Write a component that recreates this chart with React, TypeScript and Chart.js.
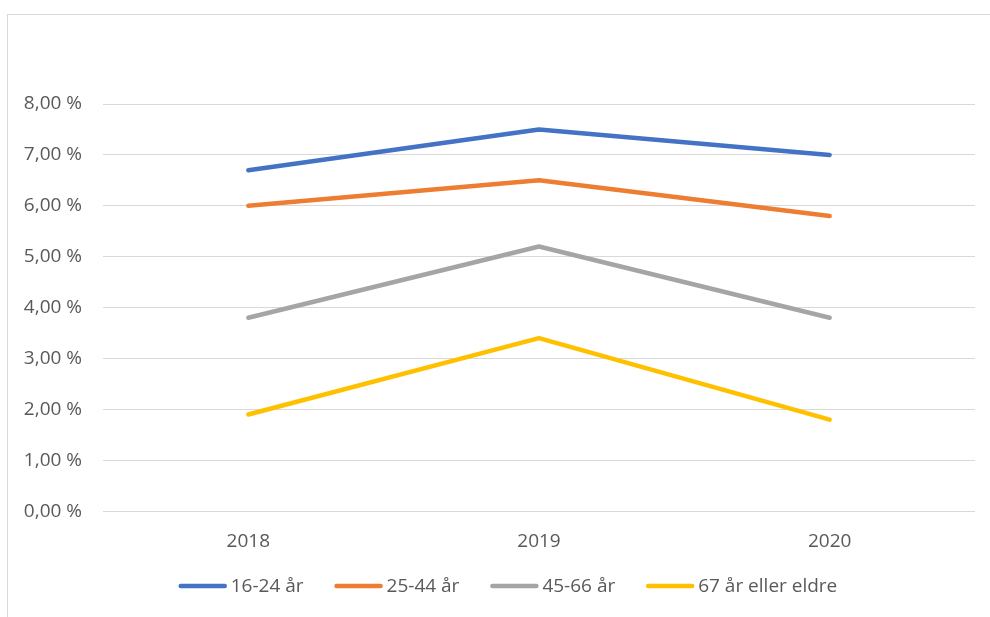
import React, { useEffect, useRef } from "react";
import { Chart, registerables } from "chart.js";

Chart.register(...registerables);

const years = ["2018", "2019", "2020"];
const age16to24 = [6.7, 7.5, 7.0];
const age25to44 = [6.0, 6.5, 5.8];
const age45to66 = [3.8, 5.2, 3.8];
const age67plus = [1.9, 3.4, 1.8];
const seriesLabels = ["16-24 år", "25-44 år", "45-66 år", "67 år eller eldre"];
const seriesColors = ["#4472C4", "#ED7D31", "#A5A5A5", "#FFC000"];

const FONT = "'Open Sans', 'Noto Sans', sans-serif";
const TEXT = "#595959";
const FS = 19;

const bottomLegend = {
  id: "bottomLegend",
  afterDraw(chart: any) {
    const ctx = chart.ctx;
    const ds = chart.data.datasets;
    const lineLen = 48;
    const gap = 4;
    const spacing = 31;
    ctx.save();
    ctx.font = `${FS}px ${FONT}`;
    const widths = ds.map((d: any) => lineLen + gap + ctx.measureText(d.label).width);
    const total = widths.reduce((a: number, b: number) => a + b, 0) + spacing * (ds.length - 1);
    const cx = chart.width / 2 + 13;
    const y = chart.height - 31;
    let x = cx - total / 2;
    ctx.textBaseline = "middle";
    ctx.textAlign = "left";
    ds.forEach((d: any, i: number) => {
      ctx.beginPath();
      ctx.strokeStyle = d.borderColor;
      ctx.lineWidth = d.borderWidth;
      ctx.lineCap = "round";
      ctx.moveTo(x + 2, y);
      ctx.lineTo(x + lineLen - 2, y);
      ctx.stroke();
      ctx.fillStyle = TEXT;
      ctx.fillText(d.label, x + lineLen + gap, y + 1);
      x += widths[i] + spacing;
    });
    ctx.restore();
  },
};

export default function App() {
  const ref = useRef<HTMLCanvasElement | null>(null);

  useEffect(() => {
    document.body.style.overflow = "hidden";
    const values = [age16to24, age25to44, age45to66, age67plus];
    const chart = new Chart(ref.current as HTMLCanvasElement, {
      type: "line",
      data: {
        labels: years,
        datasets: values.map((v, i) => ({
          label: seriesLabels[i],
          data: v,
          borderColor: seriesColors[i],
          backgroundColor: seriesColors[i],
          borderWidth: 4.5,
          borderCapStyle: "round" as const,
          borderJoinStyle: "round" as const,
          pointRadius: 0,
          pointHoverRadius: 0,
          tension: 0,
          fill: false,
        })),
      },
      options: {
        animation: false,
        responsive: false,
        maintainAspectRatio: false,
        layout: { padding: { left: 0, right: 15, top: 104, bottom: 53 } },
        scales: {
          x: {
            offset: true,
            grid: { display: false },
            border: { display: false },
            ticks: { color: TEXT, font: { family: FONT, size: FS }, padding: 11 },
          },
          y: {
            min: 0,
            max: 8,
            afterFit: (s: any) => {
              s.width = 103;
            },
            grid: { color: "#d9d9d9", lineWidth: 1, drawTicks: false },
            border: { display: false },
            ticks: {
              stepSize: 1,
              padding: 21,
              color: TEXT,
              font: { family: FONT, size: FS },
              callback: (v: any) => Number(v).toFixed(2).replace(".", ",") + " %",
            },
          },
        },
        plugins: {
          tooltip: { enabled: false },
          legend: { display: false },
        },
      },
      plugins: [bottomLegend],
    });
    return () => chart.destroy();
  }, []);

  return (
    <>
      <div
        style={{
          position: "fixed",
          left: 7,
          top: 14,
          width: 1100,
          height: 800,
          border: "1px solid #d9d9d9",
          boxSizing: "border-box",
        }}
      />
      <canvas
        ref={ref}
        width={990}
        height={617}
        style={{ position: "fixed", left: 0, top: 0, width: 990, height: 617 }}
      />
    </>
  );
}
